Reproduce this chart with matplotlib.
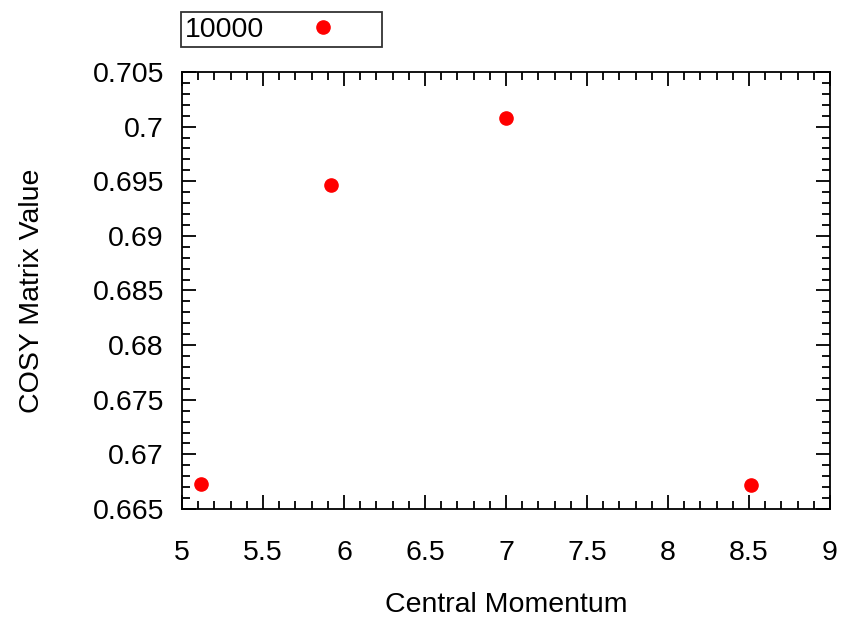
import matplotlib
matplotlib.use("Agg")
import matplotlib.pyplot as plt
from matplotlib.ticker import MultipleLocator, FormatStrFormatter

# data
momentum = [5.12, 5.92, 7.0, 8.51]
cosy_value = [0.6673, 0.6947, 0.7008, 0.6672]
series_label = "10000"

plt.rcParams["font.family"] = ["Liberation Sans", "DejaVu Sans"]
fs = 20.5

fig = plt.figure(figsize=(8.46, 6.17), dpi=100)
ax = fig.add_axes([182 / 846, 1 - 509 / 617, (830 - 182) / 846, (509 - 72) / 617])

ax.plot(momentum, cosy_value, "o", color="red", markersize=9.5, label=series_label)

ax.set_xlim(5, 9)
ax.set_ylim(0.665, 0.705)
ax.xaxis.set_major_locator(MultipleLocator(0.5))
ax.xaxis.set_minor_locator(MultipleLocator(0.1))
ax.yaxis.set_major_locator(MultipleLocator(0.005))
ax.yaxis.set_minor_locator(MultipleLocator(0.001))
ax.xaxis.set_major_formatter(FormatStrFormatter("%g"))
ax.yaxis.set_major_formatter(FormatStrFormatter("%g"))
ax.tick_params(which="both", direction="in", top=True, right=True, width=1.3,
               labelsize=fs, colors="black")
ax.tick_params(which="major", length=10)
ax.tick_params(which="minor", length=5.5)
ax.tick_params(axis="x", which="major", pad=22)
ax.tick_params(axis="y", which="major", pad=13)
for s in ax.spines.values():
    s.set_linewidth(1.3)

ax.set_xlabel("Central Momentum", fontsize=fs, labelpad=19)
ax.set_ylabel("COSY Matrix Value", fontsize=fs, labelpad=34)

leg = ax.legend(loc="lower left", bbox_to_anchor=(-0.0015, 0.0572 + 1, 0.310, 0.0892),
                mode="expand", fontsize=fs, frameon=True, fancybox=False,
                markerfirst=False, borderaxespad=0, handletextpad=0.8,
                borderpad=0.15, handlelength=2.5)
leg.get_frame().set_edgecolor("black")
leg.get_frame().set_linewidth(1.3)

fig.savefig("out.png", dpi=100)
